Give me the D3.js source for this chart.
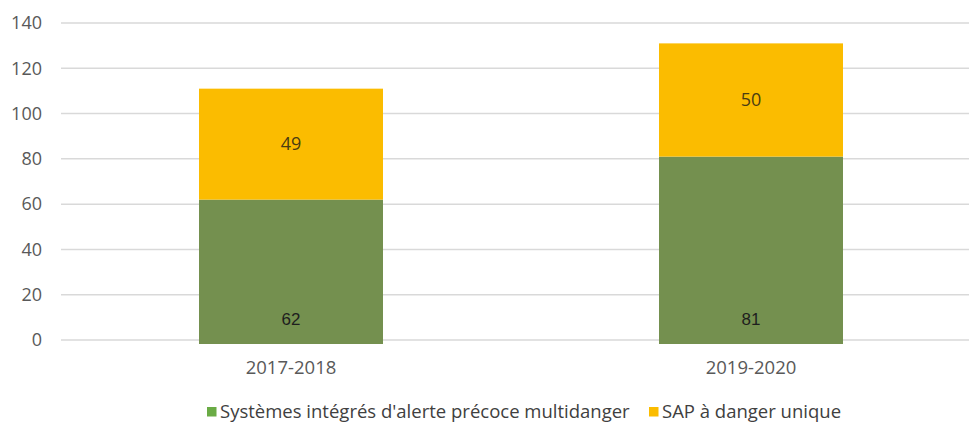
<!DOCTYPE html>
<html>
<head>
<meta charset="utf-8">
<script src="https://cdn.jsdelivr.net/npm/d3@7"></script>
<style>
  body { margin: 0; background: #fff; }
  svg { display: block; font-family: "Open Sans", "Liberation Sans", sans-serif; }
</style>
</head>
<body>
<svg id="chart" width="969" height="428"></svg>
<script>
// data
const periods = ["2017-2018", "2019-2020"];
const multiHazard = [62, 81];
const singleHazard = [49, 50];
const seriesNames = ["Systèmes intégrés d'alerte précoce multidanger", "SAP à danger unique"];
const yTicks = [0, 20, 40, 60, 80, 100, 120, 140];

const svg = d3.select("#chart");
const mLeft = 61, mRight = 981, mTop = 23, mBottom = 340;

const x = d3.scaleBand().domain(periods).range([mLeft, mRight]).paddingInner(0.6).paddingOuter(0.3);
const y = d3.scaleLinear().domain([0, 140]).range([mBottom, mTop]);

// grid lines
svg.append("g")
  .selectAll("line")
  .data(yTicks)
  .enter().append("line")
  .attr("x1", mLeft).attr("x2", 969)
  .attr("y1", d => y(d)).attr("y2", d => y(d))
  .style("stroke", "#d9d9d9")
  .style("stroke-width", 1.5);

// y axis labels
const yAxis = svg.append("g")
  .attr("transform", "translate(" + (mLeft - 19) + ",0)")
  .call(d3.axisLeft(y).tickValues(yTicks).tickSize(0).tickPadding(0));
yAxis.select(".domain").remove();
yAxis.selectAll("text")
  .style("font-family", "'Open Sans', sans-serif")
  .style("font-size", "18px")
  .style("fill", "#595959");

// stacked bars
const rows = periods.map((p, i) => ({ period: p, multi: multiHazard[i], single: singleHazard[i] }));
const stack = d3.stack().keys(["multi", "single"])(rows);
const colors = { multi: "#74904f", single: "#fbbc00" };

svg.append("g")
  .selectAll("g")
  .data(stack)
  .enter().append("g")
  .style("fill", d => colors[d.key])
  .selectAll("rect")
  .data(d => d)
  .enter().append("rect")
  .attr("x", d => x(d.data.period))
  .attr("width", x.bandwidth())
  .attr("y", d => y(d[1]))
  .attr("height", d => y(d[0]) - y(d[1]) + (d[0] === 0 ? 4 : 0));

// value labels
svg.append("g")
  .selectAll("text")
  .data(rows)
  .enter().append("text")
  .attr("x", d => x(d.period) + x.bandwidth() / 2)
  .attr("y", d => y(d.multi + d.single / 2))
  .attr("dy", "0.35em")
  .attr("text-anchor", "middle")
  .style("font-size", "18px")
  .style("fill", "#4a3c12")
  .text(d => d.single);

svg.append("g")
  .selectAll("text")
  .data(rows)
  .enter().append("text")
  .attr("x", d => x(d.period) + x.bandwidth() / 2)
  .attr("y", y(0) - 21)
  .attr("dy", "0.35em")
  .attr("text-anchor", "middle")
  .style("font-family", "'Liberation Sans', Arial, sans-serif")
  .style("font-size", "17px")
  .style("fill", "#1e1e1e")
  .text(d => d.multi);

// x axis labels
const xAxis = svg.append("g")
  .attr("transform", "translate(0," + (mBottom + 21) + ")")
  .call(d3.axisBottom(x).tickSize(0).tickPadding(0));
xAxis.select(".domain").remove();
xAxis.selectAll("text")
  .style("font-family", "'Open Sans', sans-serif")
  .style("font-size", "18.5px")
  .style("fill", "#595959");

// legend
const legend = svg.append("g").attr("transform", "translate(207,412)");
const legendColors = ["#6aab45", "#fbbc00"];
const legendX = [0, 442];
seriesNames.forEach((name, i) => {
  const g = legend.append("g").attr("transform", "translate(" + legendX[i] + ",0)");
  g.append("rect").attr("x", 0).attr("y", -5).attr("width", 9.5).attr("height", 9.5).style("fill", legendColors[i]);
  g.append("text")
    .attr("x", 13).attr("dy", "0.35em")
    .style("font-size", "18.5px")
    .style("fill", "#404040")
    .text(name);
});
</script>
</body>
</html>
